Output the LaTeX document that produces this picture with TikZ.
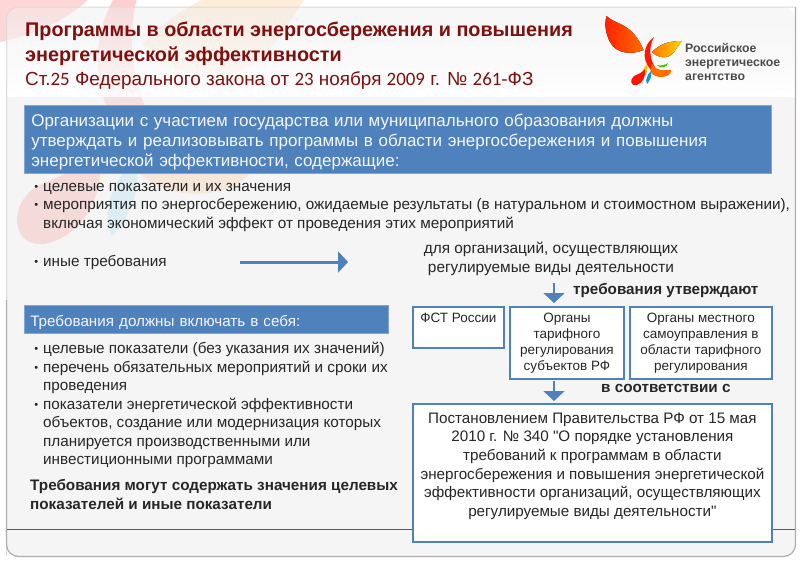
\documentclass[tikz,border=0pt]{standalone}
\usepackage{fontspec}
\usepackage{xcolor}
\setmainfont{Liberation Sans}[Ligatures=TeXOff]
\newfontfamily\digitfont{Carlito}
\usetikzlibrary{arrows.meta}
\definecolor{blue1}{HTML}{4F81BD}
\definecolor{title1}{HTML}{7F0F0F}
\definecolor{text1}{HTML}{262626}
\definecolor{line1}{HTML}{B03A3A}
\newcommand{\itm}{\llap{\raisebox{1pt}{\fontsize{11}{11}\selectfont\textbullet}\hspace{5pt}}}
\newcommand{\dg}[1]{{\digitfont #1}}
% the bird, in picture pixels
\newcommand{\logoshapes}{%
  \fill[wing l] (606.5,16) .. controls (615,25) and (632,22) .. (643.5,50)
    .. controls (632,55) and (616,54) .. (610,42) .. controls (606,34) and (604,25) .. cycle;
  \fill[arc r] (654,37) .. controls (644,44) and (641,58) .. (650,69) .. controls (654,74) and (658,75) .. (663,76)
    .. controls (652,68) and (646,52) .. cycle;
  \fill[wing r] (652,52) .. controls (660,44) and (668,41) .. (682,41)
    .. controls (679,44) and (677,48) .. (674,52) .. controls (668,60) and (658,58) .. cycle;
  \fill[swoop] (652,64) .. controls (657,72) and (664,70) .. (671,70) .. controls (672,76) and (660,80) .. (652,74) .. controls (650,71) and (650,67) .. cycle;
  \fill[leaf] (657,65) .. controls (661,66) and (665,65) .. (668,63) .. controls (668,67) and (660,70) .. cycle;
  \fill[petal y] (647,64) .. controls (649,70) and (646,75) .. (642,79) .. controls (640,75) and (643,68) .. cycle;
  \fill[petal b] (651,71) .. controls (652,76) and (650,81) .. (647,84) .. controls (645,80) and (647,75) .. cycle;
  \fill[drop r] (645,69) .. controls (646,76) and (643,83) .. (637,85) .. controls (631,87) and (629,80) .. (634,76) .. controls (638,74) and (642,73) .. cycle;
}
\begin{document}
\begin{tikzpicture}%
  [x=1pt,y=-1pt]
  \tikzstyle{head text}=[anchor=base west,inner sep=0,text=title1]
  \tikzstyle{band}=[anchor=north west,fill=blue1,draw=blue1!70!white,line width=.6pt,text=white!94!blue1,inner sep=0,align=left]
  \tikzstyle{list text}=[anchor=north west,inner sep=0,text=text1,align=left,font=\fontsize{15.27}{18.5}\selectfont]
  \tikzstyle{bold text}=[anchor=west,inner sep=0,text=black!85,font=\fontsize{15.25}{18.3}\bfseries\selectfont,align=left]
  \tikzstyle{org box}=[anchor=north west,fill=white,draw=blue1,line width=1.8pt,inner sep=0,text=text1,align=center,
    font=\fontsize{13.5}{16}\selectfont]
  \tikzstyle{blue arrow}=[draw=blue1,line width=2pt,-{Triangle[length=10pt,width=21pt]}]
  \tikzstyle{wing l}=[left color=red!75!orange,right color=orange!85!red]
  \tikzstyle{arc r}=[fill=red!80!orange]
  \tikzstyle{wing r}=[left color=orange!90!red,right color=yellow!70!orange]
  \tikzstyle{swoop}=[fill=orange!85!red]
  \tikzstyle{leaf}=[fill=green!50!lime!80!black]
  \tikzstyle{petal y}=[fill=yellow!60!orange]
  \tikzstyle{petal b}=[fill=cyan!80!blue]
  \tikzstyle{drop r}=[fill=red!85!orange]
  \useasboundingbox (0,0) rectangle (800,563);
  \fill[white] (0,0) rectangle (800,563);
  % washed-out bird behind the panel
  \fill[red!16!white] (0,0) -- (88,0) .. controls (60,25) and (30,35) .. (0,42) -- cycle;
  \begin{scope}[shift={(-3770,-268)},scale=6]
    \tikzstyle{wing l}=[fill=none]
    \tikzstyle{arc r}=[fill=red!19!white]
    \tikzstyle{wing r}=[fill=orange!15!white]
    \tikzstyle{swoop}=[fill=orange!24!white]
    \tikzstyle{leaf}=[fill=green!8!white]
    \tikzstyle{petal y}=[fill=yellow!18!white]
    \tikzstyle{petal b}=[fill=cyan!22!white]
    \tikzstyle{drop r}=[fill=red!24!white]
    \begin{scope}
      \logoshapes
    \end{scope}
  \end{scope}
  % panel
  \begin{scope}
    \clip[rounded corners=12] (6,7) rectangle (795,556);
    \foreach \i in {0,...,44}{
      \pgfmathsetmacro\gray{6.5*(1-\i/44)}
      \pgfmathsetmacro\op{.45+.45*\i/44}
      \fill[black!\gray,opacity=\op] (6,7+2*\i) rectangle (795,9+2*\i);
    }
    \fill[black!6.5,opacity=.55] (6,97) rectangle (795,556);
  \end{scope}
  \draw[black!14,line width=1pt,rounded corners=12] (6.5,556) -- (6.5,7) -- (795,7);
  \draw[black!32,line width=1.2pt,rounded corners=12] (6.5,300) -- (6.5,556.5) -- (795.5,556.5) -- (795.5,7);
  \draw[line1,line width=1pt] (7,529) -- (795,529);
  % header
  \node(title1)[head text,font=\fontsize{19.8}{25}\bfseries\selectfont] at (25,36) {Программы в области энергосбережения и повышения};
  \node(title2)[head text,font=\fontsize{19.8}{25}\bfseries\selectfont] at (25,61) {энергетической эффективности};
  \node(title3)[head text,font=\fontsize{18.9}{25}\selectfont] at (25,85) {Ст.\dg{25} Федерального закона от \dg{23} ноября \dg{2009} г. № \dg{261}-ФЗ};
  \logoshapes
  \node(logo)[anchor=north west,inner sep=0,text=black!70,align=left,font=\fontsize{12.3}{14}\bfseries\selectfont] at (685,43)
    {Российское\\энергетическое\\агентство};
  % left column
  \node(band1)[band,minimum width=747,minimum height=68,text width=733,inner xsep=7,font=\fontsize{17}{20}\selectfont] at (24,105)
    {\rule{0pt}{17.5pt}Организации с участием государства или муниципального образования должны\\
     утверждать и реализовывать программы в области энергосбережения и повышения\\
     энергетической эффективности, содержащие:};
  \node(goals)[list text] at (43,183)
    {\itm целевые показатели и их значения\\
     \itm мероприятия по энергосбережению, ожидаемые результаты (в натуральном и стоимостном выражении),\\
     включая экономический эффект от проведения этих мероприятий};
  \node(other)[list text] at (43,255) {\itm иные требования};
  \node(band2)[band,minimum width=364,minimum height=28,text width=352,inner xsep=6,font=\fontsize{15.2}{18}\selectfont] at (24,305)
    {\rule{0pt}{17pt}Требования должны включать в себя:};
  \node(reqs)[list text] at (43,342)
    {\itm целевые показатели (без указания их значений)\\
     \itm перечень обязательных мероприятий и сроки их\\
     проведения\\
     \itm показатели энергетической эффективности\\
     объектов, создание или модернизация которых\\
     планируется производственными или\\
     инвестиционными программами};
  \node(extra)[bold text] at (30,494.5)
    {Требования могут содержать значения целевых\\показателей и иные показатели};
  % right column
  \node(kinds)[anchor=north,inner sep=0,text=text1,align=center,font=\fontsize{15.4}{18.7}\selectfont] at (551,242)
    {для организаций, осуществляющих\\регулируемые виды деятельности};
  \node(fst)[org box,minimum width=91,minimum height=41] at (412,306) {};
  \node(fsttext)[inner sep=0,anchor=north,text=text1,font=\fontsize{13.5}{16}\selectfont] at (fst.north) [yshift=-6.5] {ФСТ России};
  \node(subj)[org box,minimum width=114,minimum height=72] at (509,306)
    {Органы\\тарифного\\регулирования\\субъектов РФ};
  \node(local)[org box,minimum width=142,minimum height=72] at (629,306)
    {Органы местного\\самоуправления в\\области тарифного\\регулирования};
  \node(law)[org box,minimum width=359,minimum height=138] at (412,403) {};
  \node(lawtext)[inner sep=0,anchor=north,align=center,text=text1,font=\fontsize{15.2}{18.6}\selectfont] at (law.north) [yshift=-9.5]
    {Постановлением Правительства РФ от 15 мая\\
     2010 г. № 340 "О порядке установления\\
     требований к программам в области\\
     энергосбережения и повышения энергетической\\
     эффективности организаций, осуществляющих\\
     регулируемые виды деятельности"};
  \node(approve)[bold text] at (573,290.5) {требования утверждают};
  \node(accord)[bold text] at (601,388.5) {в соответствии с};
  % arrows
  \coordinate(a1) at (240,262);
  \coordinate(a2) at (348,262);
  \coordinate(d1) at (554,283);
  \coordinate(d2) at (554,381);
  \draw[blue arrow,line width=3pt] (a1) -- (a2);
  \draw[blue arrow] (d1) -- ([yshift=3]d1 |- fst.north);
  \draw[blue arrow] (d2) -- ([yshift=2]d2 |- law.north);
\end{tikzpicture}
\end{document}
